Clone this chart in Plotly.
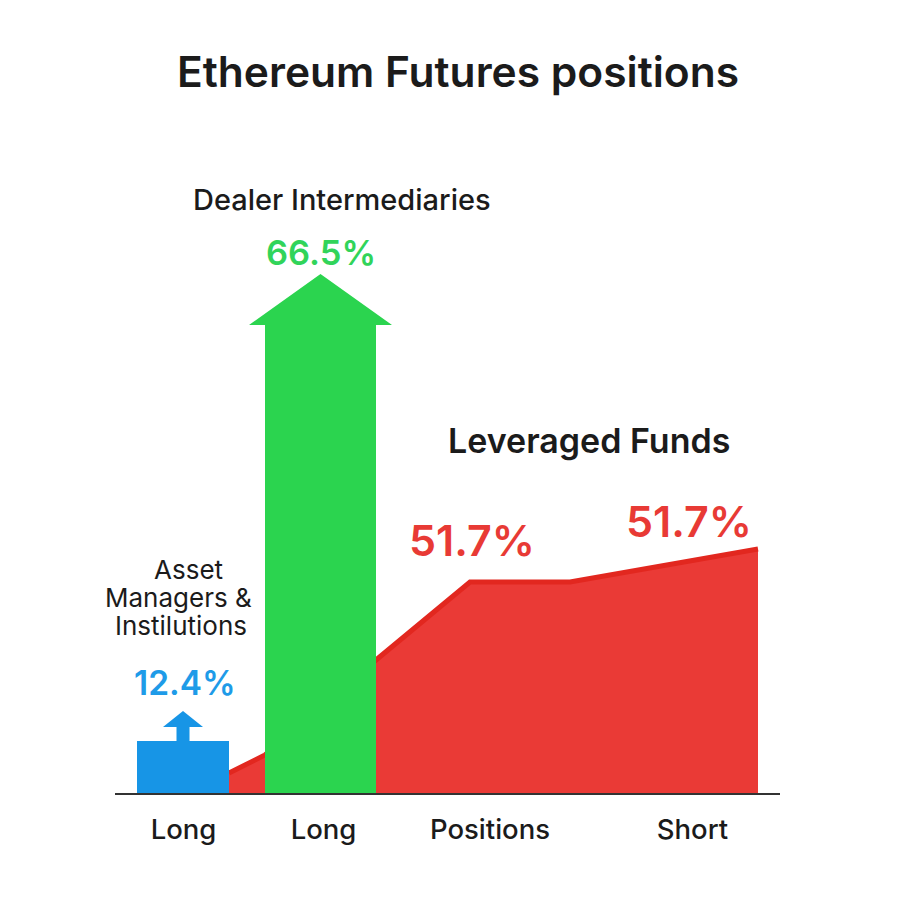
import plotly.graph_objects as go

FONT = "Inter"
DARK = "#1b1b1b"

# axis categories
tick_pos = [68.5, 208.5, 375, 577.5]
tick_labels = ["Long", "Long", "Positions", "Short"]

red_x = [114, 150, 261, 355, 455, 643]
red_y = [20, 38, 133, 211, 211, 244]

# the two arrow bars: left edge, right edge, body height, tip height
blue_x = [22, 114]
blue_height = 52
blue_tip = 82
green_x = [150, 261]
green_height = 468
green_tip = 519

labels = ["Ethereum Futures positions", "Dealer Intermediaries", "66.5%", "Leveraged Funds",
          "51.7%", "51.7%", "12.4%"]
asset_lines = ["Asset", "Managers &amp;", "Instilutions"]


def arrow(x, body, tip, head_w, stem_w=None):
    # outline of a bar with an arrow on top
    c = (x[0] + x[1]) / 2
    if stem_w is None:
        # head sits straight on the bar
        xs = [x[0], x[0], x[0] - head_w, c, x[1] + head_w, x[1], x[1]]
        ys = [0, body, body, tip, body, body, 0]
    else:
        # box with a thin stem and a small head
        h = tip - 16
        xs = [x[0], x[0], c - stem_w, c - stem_w, c - head_w, c, c + head_w, c + stem_w, c + stem_w, x[1], x[1]]
        ys = [0, body, body, h, h, tip, h, h, body, body, 0]
    return xs, ys


fig = go.Figure()
fig.add_trace(go.Scatter(x=red_x, y=red_y, mode="lines", fill="tozeroy", fillcolor="#EA3A36",
                         line=dict(color="#E2271F", width=5), hoverinfo="skip"))
xs, ys = arrow(blue_x, blue_height, blue_tip, 20, 6.5)
fig.add_trace(go.Scatter(x=xs, y=ys, mode="none", fill="toself", fillcolor="#1795E6", hoverinfo="skip"))
xs, ys = arrow(green_x, green_height, green_tip, 16)
fig.add_trace(go.Scatter(x=xs, y=ys, mode="none", fill="toself", fillcolor="#2BD44F", hoverinfo="skip"))

# text placed in axis units
fig.add_annotation(x=226.5, y=594, text=labels[1], font=dict(size=29, color=DARK, weight=500))
fig.add_annotation(x=206, y=541, text=labels[2], font=dict(size=34.5, color="#31D45A", weight=600))
fig.add_annotation(x=474, y=353, text=labels[3], font=dict(size=34, color=DARK, weight=600))
fig.add_annotation(x=357, y=253, text=labels[4], font=dict(size=43, color="#E83A35", weight=600))
fig.add_annotation(x=574, y=272, text=labels[5], font=dict(size=43, color="#E83A35", weight=600))
for cx, cy, line in zip([73, 63, 66], [224, 196, 168], asset_lines):
    fig.add_annotation(x=cx, y=cy, text=line, font=dict(size=26, color=DARK, weight=400))
fig.add_annotation(x=69.5, y=110, text=labels[6], font=dict(size=33.5, color="#1E9BE8", weight=600))
fig.update_annotations(showarrow=False, xanchor="center", yanchor="middle")

fig.update_layout(
    width=900, height=900,
    margin=dict(l=115, r=120, t=0, b=107),
    paper_bgcolor="white", plot_bgcolor="white",
    showlegend=False,
    font=dict(family=FONT, color=DARK),
    title=dict(text=labels[0], x=458 / 900, xanchor="center", y=1 - 72 / 900, yanchor="middle",
               font=dict(size=42.5, weight=600, color=DARK)),
)
fig.update_xaxes(range=[0, 665], tickmode="array", tickvals=tick_pos, ticktext=tick_labels,
                 showgrid=False, zeroline=False, showline=True, linecolor="#333333", linewidth=2,
                 ticks="outside", ticklen=11, tickcolor="white", tickfont=dict(size=27.5, color=DARK, weight=500))
fig.update_yaxes(range=[0, 793], visible=False)

# the page's default body margin would push everything 8px down and right
fig.write_html("out.html", config=dict(displayModeBar=False), post_script="document.body.style.margin='0';")
